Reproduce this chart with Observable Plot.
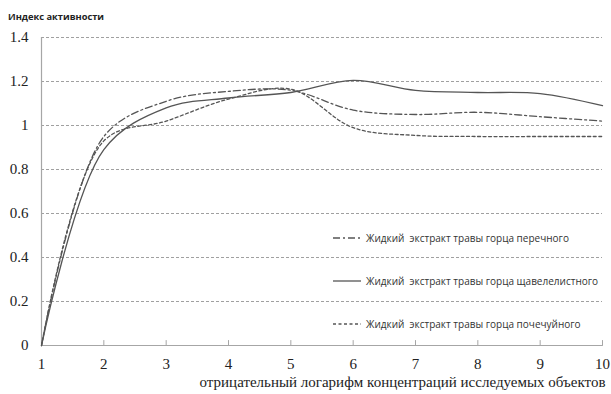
<!DOCTYPE html>
<html>
<head>
<meta charset="utf-8">
<script src="https://cdn.jsdelivr.net/npm/d3@7"></script>
<script src="https://cdn.jsdelivr.net/npm/@observablehq/plot@0.6"></script>
<style>
  body { margin: 0; background: #fff; }
  #wrap { position: relative; width: 611px; height: 394px; overflow: hidden; }
  #title { position: absolute; left: 8px; top: 10px; font: bold 9.3px "Open Sans", sans-serif; color: #222; }
  #chart { position: absolute; left: 0; top: 24px; }
  #legend { position: absolute; left: 333px; top: 231px; font: 10px "Open Sans", sans-serif; color: #333; }
  .item { display: flex; align-items: center; height: 14px; white-space: pre; }
  .item svg { margin-right: 5px; }
</style>
</head>
<body>
<div id="wrap">
  <div id="title">Индекс активности</div>
  <div id="chart"></div>
  <div id="legend"></div>
</div>
<script>
const xs = [1, 2, 3, 4, 5, 6, 7, 8, 9, 10];
const seriesNames = [
  "Жидкий  экстракт травы горца перечного",
  "Жидкий  экстракт травы горца щавелелистного",
  "Жидкий  экстракт травы горца почечуйного"
];
const perechny = [0, 0.95, 1.11, 1.155, 1.16, 1.07, 1.05, 1.06, 1.04, 1.02];
const shchavelelistny = [0, 0.89, 1.08, 1.125, 1.15, 1.205, 1.16, 1.15, 1.145, 1.09];
const pochechuyny = [0, 0.93, 1.02, 1.12, 1.165, 0.99, 0.955, 0.95, 0.95, 0.95];
const yTicks = [0, 0.2, 0.4, 0.6, 0.8, 1, 1.2, 1.4];
const xLabel = "отрицательный логарифм концентраций исследуемых объектов";

const dashes = ["7 3 2 3", null, "3 2.5"];
const allValues = [perechny, shchavelelistny, pochechuyny];

const data = [];
allValues.forEach((vals, i) => vals.forEach((v, j) => data.push({x: xs[j], y: v, s: i})));

const tickShape = { draw(ctx, l) { ctx.moveTo(0, 0); ctx.lineTo(0, -l); } };

const marks = [
  Plot.gridY(yTicks.filter(d => d > 0), {stroke: "#a0a0a0", strokeOpacity: 1, strokeDasharray: "3 2", strokeWidth: 1}),
  Plot.ruleX([1], {stroke: "#a6a6a6", strokeWidth: 1.2}),
  Plot.ruleY([0], {stroke: "#a6a6a6", strokeWidth: 1.2}),
  Plot.vector(xs.slice(1), {x: d => d, y: 0, length: 5, rotate: 0, anchor: "start", shape: tickShape, stroke: "#a6a6a6", strokeWidth: 1}),
  Plot.axisY(yTicks, {tickSize: 0, tickPadding: 13, fontSize: 15, fontFamily: "Liberation Serif", fill: "#222", tickFormat: d => String(d), label: null}),
  Plot.axisX(xs, {tickSize: 0, tickPadding: 13, fontSize: 15, fontFamily: "Liberation Serif", fill: "#222", label: null})
];
allValues.forEach((vals, i) => {
  marks.push(Plot.line(data.filter(d => d.s === i), {x: "x", y: "y", curve: "catmull-rom", stroke: "#555", strokeWidth: 1.3, strokeDasharray: dashes[i]}));
});
marks.push(Plot.text([xLabel], {frameAnchor: "bottom-right", dy: 41, dx: 3, textAnchor: "end", fontSize: 15, fontFamily: "Liberation Serif", fill: "#222"}));

const chart = Plot.plot({
  width: 611,
  height: 370,
  marginTop: 13,
  marginLeft: 41,
  marginRight: 9,
  marginBottom: 49,
  x: {domain: [1, 10]},
  y: {domain: [0, 1.4]},
  style: {background: "transparent", overflow: "visible"},
  marks
});
document.getElementById("chart").appendChild(chart);

const legend = d3.select("#legend");
[0, 1, 2].forEach((i, k) => {
  const item = legend.append("div").attr("class", "item").style("margin-bottom", k < 2 ? "29px" : "0");
  const svg = item.append("svg").attr("width", 28).attr("height", 6);
  svg.append("line").attr("x1", 0).attr("x2", 28).attr("y1", 3).attr("y2", 3)
    .attr("stroke", "#555").attr("stroke-width", 1.3).attr("stroke-dasharray", dashes[i]);
  item.append("span").text(seriesNames[i]);
});
</script>
</body>
</html>
